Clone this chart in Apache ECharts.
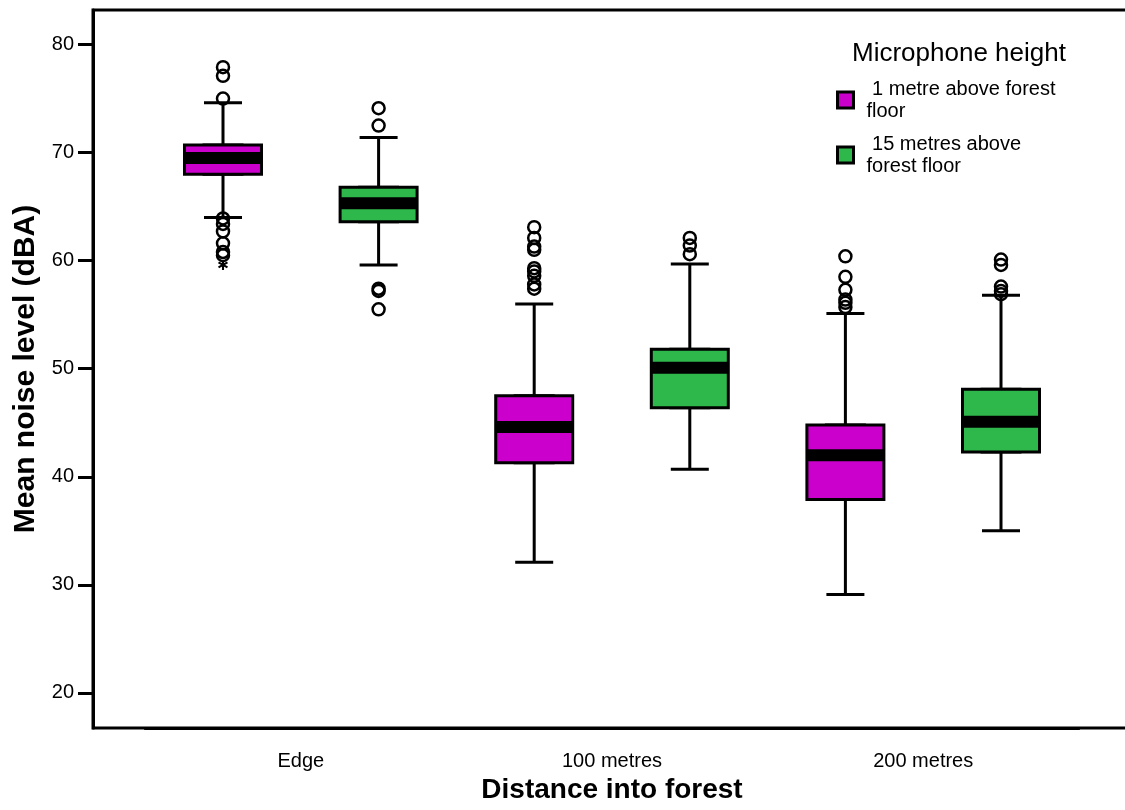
<!DOCTYPE html>
<html>
<head>
<meta charset="utf-8">
<script src="https://cdn.jsdelivr.net/npm/echarts@6/dist/echarts.min.js"></script>
<style>
html,body{margin:0;padding:0;background:#fff;}
#chart{width:1125px;height:810px;}
</style>
</head>
<body>
<div id="chart"></div>
<script>
// ---- data ----
const categories = ['Edge', '100 metres', '200 metres'];
const seriesNames = ['1 metre above forest floor', '15 metres above forest floor'];
const legendLabels = [' 1 metre above forest\nfloor', ' 15 metres above\nforest floor'];
const legendTitle = 'Microphone height';
const yTicks = [20, 30, 40, 50, 60, 70, 80];

// 1 metre (magenta)
const magMin = [64.0, 32.1, 29.1];
const magQ1  = [68.0, 41.3, 37.9];
const magMed = [69.5, 44.6, 42.0];
const magQ3  = [70.7, 47.5, 44.8];
const magMax = [74.6, 56.0, 55.1];
const magOutliers = [
  [77.9, 77.1, 75.0, 63.9, 63.4, 62.7, 61.6, 60.8, 60.5],
  [63.1, 62.1, 61.3, 61.0, 59.3, 59.0, 58.6, 57.8, 57.4],
  [60.4, 58.5, 57.3, 56.4, 56.1, 55.7]
];
const magExtremes = [[59.6], [], []];

// 15 metres (green)
const grnMin = [59.6, 40.7, 35.0];
const grnQ1  = [63.6, 46.4, 42.3];
const grnMed = [65.3, 50.1, 45.1];
const grnQ3  = [66.8, 51.8, 48.1];
const grnMax = [71.4, 59.7, 56.8];
const grnOutliers = [
  [74.1, 72.5, 57.4, 57.2, 55.5],
  [62.1, 61.4, 60.6],
  [60.1, 59.6, 57.6, 57.2, 56.9]
];

// ---- build ----
const magColor = '#cc00cc';
const grnColor = '#2eb84b';
const groupColors = [magColor, grnColor];
// hidden axis positions: each distance has two slots (1 m, 15 m)
const slotNames = [];
categories.forEach(c => { slotNames.push(c + ' 1m'); slotNames.push(c + ' 15m'); });
function slot(ci, g) { return ci * 2 + g; }

function whiskerData(mn, q1, md, q3, mx, g) {
  return categories.map((c, i) => [slot(i, g), mn[i], q1[i], md[i], q3[i], mx[i]]);
}
function boxData(q1, md, q3, g) {
  return categories.map((c, i) => [slot(i, g), q1[i], q1[i], md[i], q3[i], q3[i]]);
}
function pointData(lists, g) {
  const out = [];
  lists.forEach((arr, i) => arr.forEach(v => out.push([slot(i, g), v])));
  return out;
}
function medData(md, g) { return categories.map((c, i) => [slot(i, g), md[i]]); }

const FONT = '"Liberation Sans", Arial, Helvetica, sans-serif';
const LW = 3;

const hiddenAxis = () => ({
  type: 'category', data: slotNames, show: false, boundaryGap: true, gridIndex: 0
});

const asterisk = 'path://M-1,-5 L1,-5 L1,5 L-1,5 Z ' +
  'M-4.83,-1.634 L-3.83,-3.366 L4.83,1.634 L3.83,3.366 Z ' +
  'M-3.83,3.366 L-4.83,1.634 L3.83,-3.366 L4.83,-1.634 Z';

const boxCommon = {
  type: 'boxplot', encode: { x: 0, y: [1, 2, 3, 4, 5] }, silent: true,
  emphasis: { disabled: true }, z: 3
};

const option = {
  animation: false,
  backgroundColor: '#fff',
  textStyle: { fontFamily: FONT },
  title: {
    text: legendTitle, left: 852, top: 41, padding: 0,
    textStyle: { fontFamily: FONT, fontSize: 26, fontWeight: 'normal', color: '#000' }
  },
  legend: {
    data: seriesNames.map((n, i) => ({
      name: n, icon: 'rect',
      itemStyle: { color: groupColors[i], borderColor: '#000', borderWidth: 3 }
    })),
    orient: 'vertical', left: 831, top: 73, itemGap: 11,
    itemWidth: 16, itemHeight: 16, icon: 'rect',
    selectedMode: false,
    formatter: n => legendLabels[seriesNames.indexOf(n)],
    textStyle: { fontFamily: FONT, fontSize: 20, lineHeight: 22, color: '#000', padding: [0, 0, 0, 8] }
  },
  graphic: [{
    type: 'rect', silent: true, z: 10,
    shape: { x: 93, y: 10, width: 1100, height: 718 },
    style: { fill: 'none', stroke: '#000', lineWidth: LW }
  }],
  grid: { left: 145.2, right: 46.2, top: 10, bottom: 82 },
  xAxis: [
    {
      type: 'category', data: categories, boundaryGap: true, gridIndex: 0,
      name: 'Distance into forest', nameLocation: 'middle', nameGap: 44,
      nameTextStyle: { fontFamily: FONT, fontSize: 28, fontWeight: 'bold', color: '#000' },
      axisLine: { lineStyle: { color: '#000', width: LW } },
      axisTick: { alignWithLabel: true, length: 15, lineStyle: { color: '#000', width: LW } },
      axisLabel: { fontFamily: FONT, fontSize: 20, color: '#000', margin: 23 },
      splitLine: { show: false }
    },
    hiddenAxis(), hiddenAxis(), hiddenAxis(), hiddenAxis()
  ],
  yAxis: {
    type: 'value', min: 16.76, max: 83.19, offset: 52.2,
    name: 'Mean noise level (dBA)', nameLocation: 'middle', nameGap: 51,
    nameTextStyle: { fontFamily: FONT, fontSize: 30, fontWeight: 'bold', color: '#000' },
    axisLine: { show: true, lineStyle: { color: '#000', width: LW } },
    axisTick: { show: true, length: 15, customValues: yTicks, lineStyle: { color: '#000', width: LW } },
    axisLabel: { fontFamily: FONT, fontSize: 20, color: '#000', margin: 19, customValues: yTicks },
    splitLine: { show: false }
  },
  series: [
    // whiskers
    Object.assign({}, boxCommon, {
      name: 'whisker-1m', xAxisIndex: 1, boxWidth: [38, 38],
      itemStyle: { color: 'rgba(0,0,0,0)', borderColor: '#000', borderWidth: LW },
      data: whiskerData(magMin, magQ1, magMed, magQ3, magMax, 0)
    }),
    Object.assign({}, boxCommon, {
      name: 'whisker-15m', xAxisIndex: 2, boxWidth: [38, 38],
      itemStyle: { color: 'rgba(0,0,0,0)', borderColor: '#000', borderWidth: LW },
      data: whiskerData(grnMin, grnQ1, grnMed, grnQ3, grnMax, 1)
    }),
    // boxes
    Object.assign({}, boxCommon, {
      name: seriesNames[0], xAxisIndex: 3, boxWidth: [77, 77], z: 4,
      itemStyle: { color: magColor, borderColor: '#000', borderWidth: LW },
      data: boxData(magQ1, magMed, magQ3, 0)
    }),
    Object.assign({}, boxCommon, {
      name: seriesNames[1], xAxisIndex: 4, boxWidth: [77, 77], z: 4,
      itemStyle: { color: grnColor, borderColor: '#000', borderWidth: LW },
      data: boxData(grnQ1, grnMed, grnQ3, 1)
    }),
    // medians (thick black band)
    {
      type: 'scatter', name: 'median', xAxisIndex: 1, silent: true, z: 8,
      symbol: 'rect', symbolSize: [76, 12], symbolKeepAspect: false,
      itemStyle: { color: '#000', opacity: 1 },
      emphasis: { disabled: true },
      data: medData(magMed, 0).concat(medData(grnMed, 1))
    },
    // outliers
    {
      type: 'scatter', name: 'outliers', xAxisIndex: 1, silent: true, z: 9,
      symbol: 'circle', symbolSize: 12,
      itemStyle: { color: 'rgba(0,0,0,0)', borderColor: '#000', borderWidth: 2.5, opacity: 1 },
      emphasis: { disabled: true },
      data: pointData(magOutliers, 0).concat(pointData(grnOutliers, 1))
    },
    {
      type: 'scatter', name: 'extremes', xAxisIndex: 1, silent: true, z: 9,
      symbol: asterisk, symbolSize: 10,
      itemStyle: { color: '#000', opacity: 1 },
      emphasis: { disabled: true },
      data: pointData(magExtremes, 0)
    }
  ]
};

const chart = echarts.init(document.getElementById('chart'), null, { renderer: 'canvas' });
chart.setOption(option);
</script>
</body>
</html>
